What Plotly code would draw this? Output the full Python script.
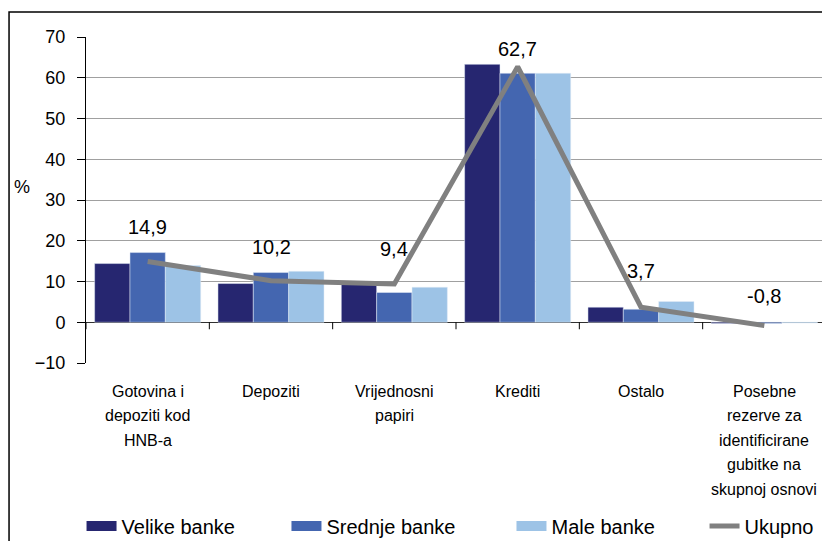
import plotly.graph_objects as go

categories = ["Gotovina i<br>depoziti kod<br>HNB-a", "Depoziti", "Vrijednosni<br>papiri",
              "Krediti", "Ostalo",
              "Posebne<br>rezerve za<br>identificirane<br>gubitke na<br>skupnoj osnovi"]
velike = [14.4, 9.5, 9.6, 63.3, 3.7, -0.3]
srednje = [17.1, 12.2, 7.3, 61.1, 3.2, -0.3]
male = [13.9, 12.5, 8.6, 61.1, 5.1, -0.2]
ukupno = [14.9, 10.2, 9.4, 62.7, 3.7, -0.8]
y_ticks = [-10, 0, 10, 20, 30, 40, 50, 60, 70]
y_range = [-10, 70]

# style: vertical pixel offsets of the value labels above the line points
label_shift = [35, 34, 35, 18, 36, 30]

FONT = "Liberation Sans, Arial, sans-serif"
C_VEL, C_SRE, C_MAL, C_UK = "#262670", "#4466b0", "#9dc3e6", "#808080"

fig = go.Figure()
fig.add_trace(go.Bar(name="Velike banke", x=categories, y=velike, marker_color=C_VEL, showlegend=False))
fig.add_trace(go.Bar(name="Srednje banke", x=categories, y=srednje, marker_color=C_SRE, showlegend=False))
fig.add_trace(go.Bar(name="Male banke", x=categories, y=male, marker_color=C_MAL, showlegend=False))
fig.add_trace(go.Scatter(name="Ukupno", x=categories, y=ukupno, mode="lines",
                         line=dict(color=C_UK, width=5), showlegend=False))

# legend proxies (wide rectangular swatches), each in its own legend box
legend_items = [("Velike banke", C_VEL, 15, "legend", 0.0886),
                ("Srednje banke", C_SRE, 15, "legend2", 0.3355),
                ("Male banke", C_MAL, 15, "legend3", 0.6066),
                ("Ukupno", C_UK, 5, "legend4", 0.8392)]
legend_layout = {}
for name, col, w, lg, lx in legend_items:
    fig.add_trace(go.Scatter(name=name, x=[categories[0]], y=[None], mode="lines",
                             line=dict(color=col, width=w), hoverinfo="skip", legend=lg))
    legend_layout[lg] = dict(orientation="h", xref="container", yref="container", x=lx, y=0.0425,
                             xanchor="left", yanchor="middle", font=dict(size=20, family=FONT),
                             bgcolor="rgba(0,0,0,0)")

annotations = [dict(text="%", xref="paper", yref="paper", x=-0.0865, y=0.54, xanchor="center",
                    showarrow=False, font=dict(size=18, family=FONT))]
# value labels of the total line
for c, v, s in zip(categories, ukupno, label_shift):
    annotations.append(dict(x=c, y=v, xref="x", yref="y", text=f"{v:.1f}".replace(".", ","),
                            showarrow=False, yshift=s, yanchor="middle", xanchor="center",
                            font=dict(size=20, family=FONT, color="black")))
# category labels, one annotation per text line for Excel-like line spacing
for c in categories:
    for i, line in enumerate(c.split("<br>")):
        annotations.append(dict(x=c, y=0, xref="x", yref="paper", text=line, xanchor="center",
                                showarrow=False, yanchor="middle", yshift=-(28 + 24.5 * i),
                                font=dict(size=16, family=FONT, color="black")))

# tick marks on the zero line at the category boundaries
zero_frac = (0 - y_range[0]) / (y_range[1] - y_range[0])
tick_frac = 7 / 326
shapes = [dict(type="rect", xref="paper", yref="paper", x0=-0.104, x1=1.004,
               y0=-0.6, y1=1.0767, line=dict(color="black", width=1.5))]
n = len(categories)
for i in range(n + 1):
    xf = i / n
    shapes.append(dict(type="line", xref="paper", yref="paper", x0=xf, x1=xf,
                       y0=zero_frac, y1=zero_frac - tick_frac,
                       line=dict(color="black", width=1)))

fig.update_layout(
    width=830, height=541,
    paper_bgcolor="white", plot_bgcolor="white",
    margin=dict(l=78, r=12, t=29, b=186, autoexpand=False),
    barmode="group", bargap=0.14, bargroupgap=0,
    font=dict(family=FONT, color="black"),
    xaxis=dict(showticklabels=False, showline=False, ticks="",
               range=[-0.5, n - 0.5], showgrid=False, automargin=False),
    yaxis=dict(range=y_range, tickvals=y_ticks, tickfont=dict(size=18),
               showgrid=True, gridcolor="#a0a0a0", gridwidth=1,
               zeroline=True, zerolinecolor="#303030", zerolinewidth=1,
               showline=True, linecolor="black", linewidth=1,
               ticks="outside", ticklen=8, tickcolor="black", ticklabelstandoff=8,
               automargin=False),
    shapes=shapes,
    annotations=annotations,
    **legend_layout,
)

fig.write_html("out.html")
